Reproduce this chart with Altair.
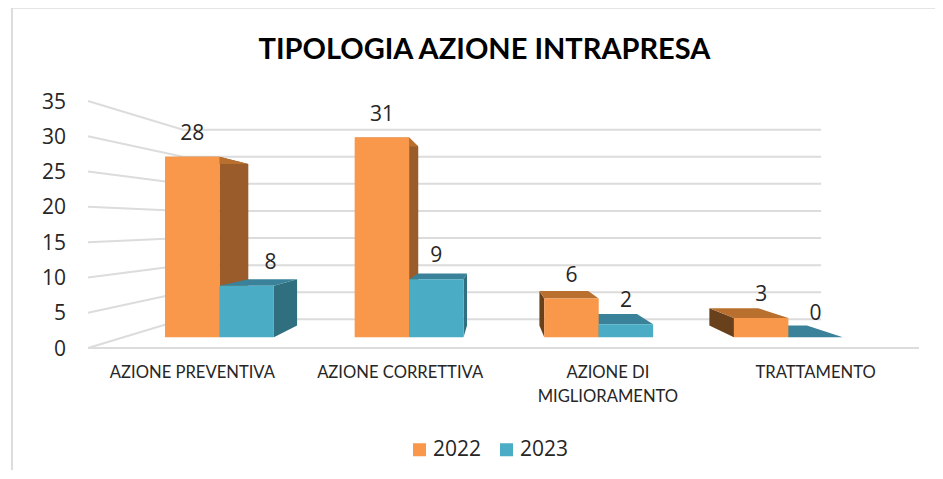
import json
import altair as alt
import pandas as pd

CATEGORIES = ["AZIONE PREVENTIVA", "AZIONE CORRETTIVA", ["AZIONE DI", "MIGLIORAMENTO"], "TRATTAMENTO"]
YEARS = ["2022", "2023"]
VALUES_2022 = [28, 31, 6, 3]
VALUES_2023 = [8, 9, 2, 0]
TICKS = [0, 5, 10, 15, 20, 25, 30, 35]

# 3-D model of the plot box (category units, value units, depth 0..1)
VP_C, VP_G = 1.97, 17.5
D_FRONT, D_BACK, D_WALL = 0.0872, 0.182, 0.232
GAP, BAR = 0.218, 0.287
FRONT = {"2022": "#F9974A", "2023": "#4AACC5"}
TOP = {"2022": "#B9702F", "2023": "#3A8299"}
RIGHT = {"2022": "#9A5C2B", "2023": "#2F6F80"}
LEFT = {"2022": "#68401C", "2023": "#2A6272"}
GRID = "#DCDCDC"
TEXT = "#262626"


def project(c, g, d):
    return c + d * (VP_C - c), g + d * (VP_G - g)


def polygon_rows(face, fill, pts):
    rows = []
    n = len(pts)
    for x in sorted({round(p[0], 6) for p in pts}):
        ys = []
        for i in range(n):
            (x0, y0), (x1, y1) = pts[i], pts[(i + 1) % n]
            lo, hi = min(x0, x1), max(x0, x1)
            if lo - 1e-6 <= x <= hi + 1e-6:
                if abs(x1 - x0) < 1e-6:
                    ys += [y0, y1]
                else:
                    ys.append(y0 + (x - x0) / (x1 - x0) * (y1 - y0))
        rows.append(dict(face=face, fill=fill, x=x, lo=min(ys), hi=max(ys)))
    return rows


faces, fronts, labels = [], [], []
for i, cat in enumerate(CATEGORIES):
    for s, (year, vals) in enumerate(zip(YEARS, [VALUES_2022, VALUES_2023])):
        v = vals[i]
        c0 = i + GAP + s * BAR
        c1 = c0 + BAR
        fl, fr = project(c0, v, D_FRONT), project(c1, v, D_FRONT)
        bl, br = project(c0, v, D_BACK), project(c1, v, D_BACK)
        fl0, fr0 = project(c0, 0, D_FRONT), project(c1, 0, D_FRONT)
        bl0, br0 = project(c0, 0, D_BACK), project(c1, 0, D_BACK)
        key = f"{i}-{s}"
        if fr[0] < VP_C:
            faces += polygon_rows(key + "side", RIGHT[year], [fr0, br0, br, fr])
        elif fl[0] > VP_C:
            faces += polygon_rows(key + "side", LEFT[year], [fl0, bl0, bl, fl])
        faces += polygon_rows(key + "top", TOP[year], [fl, fr, br, bl])
        fronts.append(dict(year=year, x=fl[0], x2=fr[0], y=fl0[1], y2=fl[1]))
        shift = 0.115 if (i, s) == (0, 1) else 0
        labels.append(dict(x=(fl[0] + fr[0]) / 2 + shift, y=fl[1], t=str(v)))

grid = []
for g in TICKS:
    a = (0, g)
    b = project(0, g, D_WALL)
    e = project(4, g, D_WALL)
    for p in (a, b, e):
        grid.append(dict(key=f"g{g}", x=p[0], y=p[1]))
grid += [dict(key="floor", x=0, y=0), dict(key="floor", x=4, y=0)]

xs = alt.Scale(domain=[0, 4], nice=False, zero=False)
ys = alt.Scale(domain=[0, 35], nice=False, zero=False)


def X(f):
    return alt.X(f, scale=xs, title=None)


def Y(f, **kw):
    return alt.Y(f, scale=ys, title=None, axis=None, **kw)


frame_left, frame_right, frame_top, frame_bottom = -0.366, 4.08, 48.2, -17.3
frame = alt.Chart(pd.DataFrame([
    dict(x=frame_left, x2=frame_left, y=frame_bottom, y2=frame_top),
    dict(x=frame_left, x2=frame_right, y=frame_top, y2=frame_top),
])).mark_rule(color=GRID, strokeWidth=2).encode(
    x=X("x:Q"), x2=alt.X2("x2:Q", title=None), y=Y("y:Q"), y2=alt.Y2("y2:Q", title=None))

label_expr = "%s[datum.value - 0.5]" % json.dumps(CATEGORIES)
grid_layer = alt.Chart(pd.DataFrame(grid)).mark_line(color=GRID, strokeWidth=2).encode(
    x=alt.X("x:Q", scale=xs, title=None, axis=alt.Axis(
        values=[0.5, 1.5, 2.5, 3.5], labelExpr=label_expr,
        labelFont="Lato", labelFontSize=16.6, labelColor=TEXT, labelPadding=16, labelLineHeight=24,
        labelAngle=0, labelAlign="center", labelBaseline="top")),
    y=Y("y:Q"),
    detail="key:N", order="x:Q")

tick_layer = alt.Chart(pd.DataFrame({"g": TICKS, "x": [0] * len(TICKS)})).mark_text(
    font="Open Sans", fontSize=21, color=TEXT, align="right", baseline="middle", dx=-22, dy=1.5).encode(
    x=X("x:Q"), y=Y("g:Q"), text="g:Q")

face_layer = alt.Chart(pd.DataFrame(faces)).mark_area(strokeWidth=0, interpolate="linear").encode(
    x=X("x:Q"),
    y=Y("lo:Q", stack=None), y2=alt.Y2("hi:Q", title=None),
    fill=alt.Fill("fill:N", scale=None), detail="face:N")

front_layer = alt.Chart(pd.DataFrame(fronts)).mark_rect().encode(
    x=X("x:Q"), x2=alt.X2("x2:Q", title=None),
    y=Y("y:Q"), y2=alt.Y2("y2:Q", title=None),
    color=alt.Color("year:N", scale=alt.Scale(domain=YEARS, range=[FRONT[y] for y in YEARS]), legend=alt.Legend(
        title=None, orient="none", legendX=321, legendY=338, direction="horizontal", symbolType="square",
        symbolSize=169, symbolStrokeWidth=0, labelFont="Open Sans", labelFontSize=21, labelColor=TEXT,
        columnPadding=14, labelOffset=3)))

label_layer = alt.Chart(pd.DataFrame(labels)).mark_text(
    font="Open Sans", fontSize=21, color=TEXT, dy=-23, baseline="middle", align="center").encode(
    x=X("x:Q"), y=Y("y:Q"), text="t:N")

chart = alt.layer(grid_layer, frame, tick_layer, face_layer, front_layer, label_layer).properties(
    width=831, height=247,
    padding={"left": 80, "top": 93, "right": 16, "bottom": 122},
    autosize=alt.AutoSizeParams(type="none"),
    background="white",
    title=alt.TitleParams("TIPOLOGIA AZIONE INTRAPRESA", font="Lato", fontSize=29, fontWeight="bold",
                          color="#000000", anchor="middle", frame="group", dx=-19, offset=-87, baseline="bottom"),
).configure_view(strokeWidth=0).configure_axis(
    labelOverlap=False, labelBound=False, labelFlush=False, domain=False, ticks=False, grid=False)

chart.save("out.html", embed_options={"renderer": "svg", "actions": False})
